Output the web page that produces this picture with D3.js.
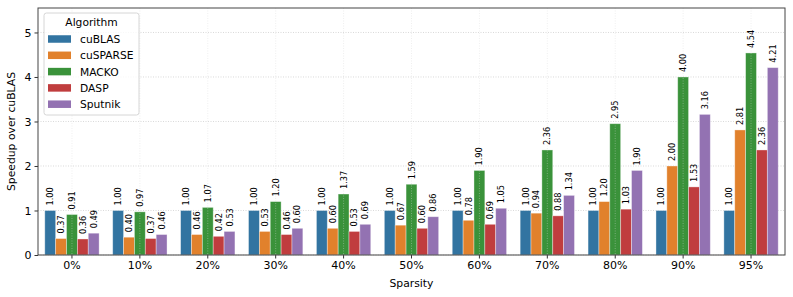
<!DOCTYPE html>
<html>
<head>
<meta charset="utf-8">
<script src="https://cdn.jsdelivr.net/npm/d3@7"></script>
<style>
  body { margin: 0; background: #fff; }
  text { font-family: "DejaVu Sans", sans-serif; fill: #000; }
</style>
</head>
<body>
<div id="chart"></div>
<script>
let width = 793;
let height = 297;
let margin = { top: 8, right: 8, bottom: 42, left: 38 };

let categories = ["0%", "10%", "20%", "30%", "40%", "50%", "60%", "70%", "80%", "90%", "95%"];
let algorithms = ["cuBLAS", "cuSPARSE", "MACKO", "DASP", "Sputnik"];
let colors = ["#3274a1", "#e1812c", "#3a923a", "#c03d3e", "#9372b2"];

let cublas = [1.00, 1.00, 1.00, 1.00, 1.00, 1.00, 1.00, 1.00, 1.00, 1.00, 1.00];
let cusparse = [0.37, 0.40, 0.46, 0.53, 0.60, 0.67, 0.78, 0.94, 1.20, 2.00, 2.81];
let macko = [0.91, 0.97, 1.07, 1.20, 1.37, 1.59, 1.90, 2.36, 2.95, 4.00, 4.54];
let dasp = [0.36, 0.37, 0.42, 0.46, 0.53, 0.60, 0.69, 0.88, 1.03, 1.53, 2.36];
let sputnik = [0.49, 0.46, 0.53, 0.60, 0.69, 0.86, 1.05, 1.34, 1.90, 3.16, 4.21];
let yTicks = [0, 1, 2, 3, 4, 5];

let series = [cublas, cusparse, macko, dasp, sputnik];
let rows = [];
categories.forEach(function (c, i) {
    algorithms.forEach(function (a, j) {
        rows.push({ cat: c, alg: a, value: series[j][i], color: colors[j] });
    });
});

let svg = d3.select("#chart")
    .append("svg")
    .attr("width", width)
    .attr("height", height);

let plotW = width - margin.left - margin.right;
let plotH = height - margin.top - margin.bottom;

let g = svg.append("g")
    .attr("transform", "translate(" + margin.left + "," + margin.top + ")");

// matplotlib style: one slot per category, the group takes 0.8 of it
let slot = d3.scaleBand().domain(categories).range([0, plotW]);
let inner = d3.scaleBand()
    .domain(algorithms)
    .range([0, slot.bandwidth() * 0.8]);

let y = d3.scaleLinear()
    .domain([0, 5.55])
    .range([plotH, 0]);

// horizontal grid (below bars)
g.append("g")
    .selectAll("line")
    .data(yTicks)
    .enter()
    .append("line")
    .attr("x1", 0)
    .attr("x2", plotW)
    .attr("y1", d => y(d))
    .attr("y2", d => y(d))
    .attr("stroke", "#cfcfcf")
    .attr("stroke-width", 0.8)
    .attr("stroke-dasharray", "1,1.5");

// bars
g.append("g")
    .selectAll("rect")
    .data(rows)
    .enter()
    .append("rect")
    .attr("x", d => slot(d.cat) + slot.bandwidth() * 0.1 + inner(d.alg))
    .attr("y", d => y(d.value))
    .attr("width", inner.bandwidth())
    .attr("height", d => plotH - y(d.value))
    .attr("fill", d => d.color)
    .attr("stroke", "#ffffff")
    .attr("stroke-opacity", 0.45)
    .attr("stroke-width", 0.8);

// vertical grid (shows faintly over the middle bar like the reference)
g.append("g")
    .selectAll("line")
    .data(categories)
    .enter()
    .append("line")
    .attr("x1", d => slot(d) + slot.bandwidth() / 2)
    .attr("x2", d => slot(d) + slot.bandwidth() / 2)
    .attr("y1", 0)
    .attr("y2", plotH)
    .attr("stroke", "#d6d6d6")
    .attr("stroke-opacity", 0.5)
    .attr("stroke-width", 0.8)
    .attr("stroke-dasharray", "1,1.5");

// value labels, rotated
g.append("g")
    .selectAll("text")
    .data(rows)
    .enter()
    .append("text")
    .attr("transform", function (d) {
        let cx = slot(d.cat) + slot.bandwidth() * 0.1 + inner(d.alg) + inner.bandwidth() / 2;
        let cy = y(d.value) - 5;
        return "translate(" + (cx + 3) + "," + cy + ") rotate(-90)";
    })
    .attr("font-size", "8.2px")
    .text(d => d.value.toFixed(2));

// axes
let xAxis = d3.axisBottom(slot).tickSize(3.5).tickPadding(3);
let yAxis = d3.axisLeft(y).tickValues(yTicks).tickFormat(d3.format("d")).tickSize(3.5).tickPadding(3);

let gx = g.append("g")
    .attr("transform", "translate(0," + plotH + ")")
    .call(xAxis);
gx.select(".domain").remove();
gx.selectAll("text").attr("font-size", "11px").attr("font-family", "DejaVu Sans");
gx.selectAll("line").attr("stroke", "#333");

let gy = g.append("g").call(yAxis);
gy.select(".domain").remove();
gy.selectAll("text").attr("font-size", "11px").attr("font-family", "DejaVu Sans");
gy.selectAll("line").attr("stroke", "#333");

// frame
g.append("rect")
    .attr("x", 0)
    .attr("y", 0)
    .attr("width", plotW)
    .attr("height", plotH)
    .attr("fill", "none")
    .attr("stroke", "#444")
    .attr("stroke-width", 1);

// axis labels
svg.append("text")
    .attr("x", margin.left + plotW / 2)
    .attr("y", 287)
    .attr("text-anchor", "middle")
    .attr("font-size", "10.8px")
    .text("Sparsity");

svg.append("text")
    .attr("transform", "translate(15," + (margin.top + plotH / 2) + ") rotate(-90)")
    .attr("text-anchor", "middle")
    .attr("font-size", "10.8px")
    .text("Speedup over cuBLAS");

// legend
let legend = svg.append("g").attr("transform", "translate(44,13)");
legend.append("rect")
    .attr("width", 95)
    .attr("height", 102)
    .attr("rx", 2.5)
    .attr("fill", "#fff")
    .attr("fill-opacity", 0.8)
    .attr("stroke", "#ccc")
    .attr("stroke-width", 0.8);
legend.append("text")
    .attr("x", 47.5)
    .attr("y", 13)
    .attr("text-anchor", "middle")
    .attr("font-size", "10.7px")
    .text("Algorithm");

let items = legend.selectAll(".item")
    .data(algorithms)
    .enter()
    .append("g")
    .attr("transform", (d, i) => "translate(4," + (26 + i * 16.3) + ")");
items.append("rect")
    .attr("width", 23)
    .attr("height", 7.5)
    .attr("y", -3.75)
    .attr("fill", (d, i) => colors[i]);
items.append("text")
    .attr("x", 32)
    .attr("y", 3.9)
    .attr("font-size", "10.7px")
    .text(d => d);
</script>
</body>
</html>
